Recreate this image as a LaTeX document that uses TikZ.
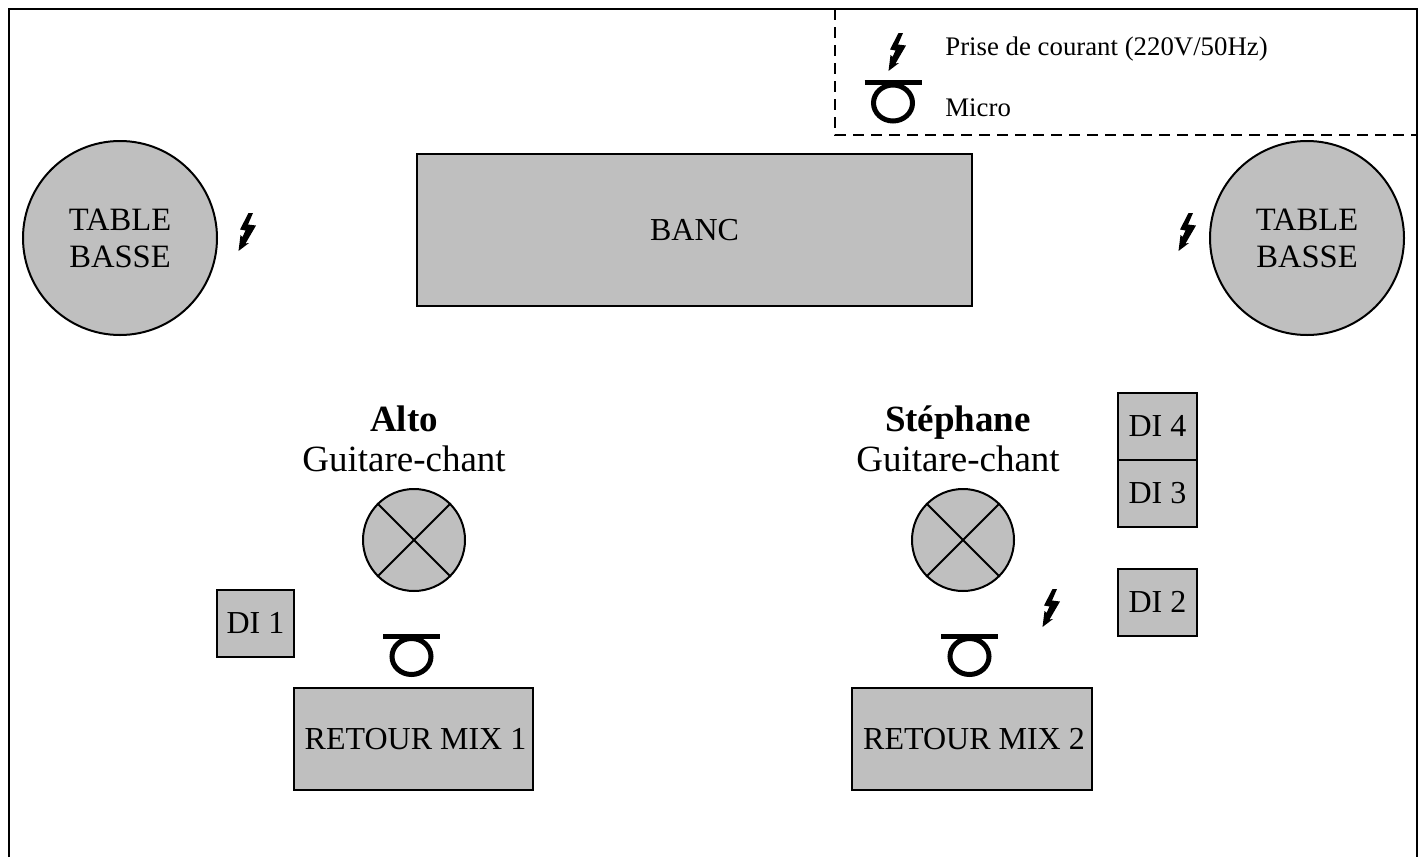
\documentclass[tikz,border=0pt]{standalone}
\usepackage{fontspec}
\setmainfont{Liberation Serif}
\tikzset{
    gear/.style={draw, fill=black!25, line width=1pt, inner sep=0pt},
    tablebasse/.style={gear, circle, minimum size=97pt, align=center, font=\fontsize{16.3}{18.5}\selectfont},
    monitor/.style={gear, circle, minimum size=51pt},
    label/.style={anchor=base, inner sep=0pt, font=\fontsize{18.5}{18.5}\selectfont},
    legendtext/.style={anchor=west, inner sep=0pt, font=\fontsize{13.4}{15}\selectfont},
}
\begin{document}
\begin{tikzpicture}[x=0.5pt, y=-0.5pt]
    % sizes are in pixels of the plan
    \newcommand{\prise}[1]{
        \fill[black, shift={(#1)}] (1.5,-19) -- (6,-19) -- (1,-7.5) -- (9,-6.5) -- (-1.5,11.5) -- (2,11)
            -- (-8.5,19) -- (-6.5,3) -- (-4.5,5) -- (-1.5,-1.5) -- (-7,-2.5) -- cycle;
    }
    \newcommand{\micro}[1]{
        \draw[line width=2.5pt, shift={(#1)}] (0,20.5) ellipse (19.5 and 18);
        \draw[line width=2.5pt, shift={(#1)}] (-28.5,0) -- (28.5,0);
    }
    \newcommand{\dibox}[6]{
        \node[gear, minimum width=#5*0.5pt, minimum height=#6*0.5pt, font=\fontsize{16}{18}\selectfont] (#1) at (#3, #4) {#2};
    }
    \useasboundingbox (0,0) rectangle (1424,857);

    % stage outline, open at the bottom
    \draw[line width=1pt] (9,857) -- (9,9) -- (1417,9) -- (1417,857);

    % legend
    \draw[dash pattern=on 5.5pt off 3.5pt, line width=0.8pt] (835,9) -- (835,135) -- (1417,135);
    \prise{897,52}
    \micro{893,82.5}
    \node[legendtext] (legendprise) at (945,49) {Prise de courant (220V/50Hz)};
    \node[legendtext] (legendmicro) at (945,108) {Micro};

    % furniture
    \node[tablebasse] (tableleft) at (120,238) {TABLE\\BASSE};
    \node[tablebasse] (tableright) at (1307,238) {TABLE\\BASSE};
    \node[gear, minimum width=277.5pt, minimum height=76pt, font=\fontsize{16}{18}\selectfont] (banc) at (694.5,230) {BANC};
    \prise{247,232}
    \prise{1187,232}
    \prise{1051,608}

    % Alto
    \node[label] (alto) at (404,431) {\textbf{Alto}};
    \node[label] (altorole) at (404,471) {Guitare-chant};
    \node[monitor] (altospot) at (414,540) {};
    \draw[line width=1pt] (altospot.north west) -- (altospot.south east);
    \draw[line width=1pt] (altospot.north east) -- (altospot.south west);
    \micro{411.5,636}
    \dibox{retourone}{\hspace*{2pt}RETOUR MIX 1}{413.5}{739}{239}{102}
    \dibox{dione}{\raisebox{1pt}{DI 1}}{255.5}{623.5}{77}{67}

    % Stephane
    \node[label] (stephane) at (958,431) {\textbf{Stéphane}};
    \node[label] (stephanerole) at (958,471) {Guitare-chant};
    \node[monitor] (stephanespot) at (963,540) {};
    \draw[line width=1pt] (stephanespot.north west) -- (stephanespot.south east);
    \draw[line width=1pt] (stephanespot.north east) -- (stephanespot.south west);
    \micro{969.5,636}
    \dibox{retourtwo}{\hspace*{2pt}RETOUR MIX 2}{972}{739}{240}{102}
    \dibox{difour}{\raisebox{1pt}{DI 4}}{1157.5}{426.5}{79}{67}
    \dibox{dithree}{DI 3}{1157.5}{493.5}{79}{67}
    \dibox{ditwo}{\raisebox{1pt}{DI 2}}{1157.5}{602.5}{79}{67}
\end{tikzpicture}
\end{document}
